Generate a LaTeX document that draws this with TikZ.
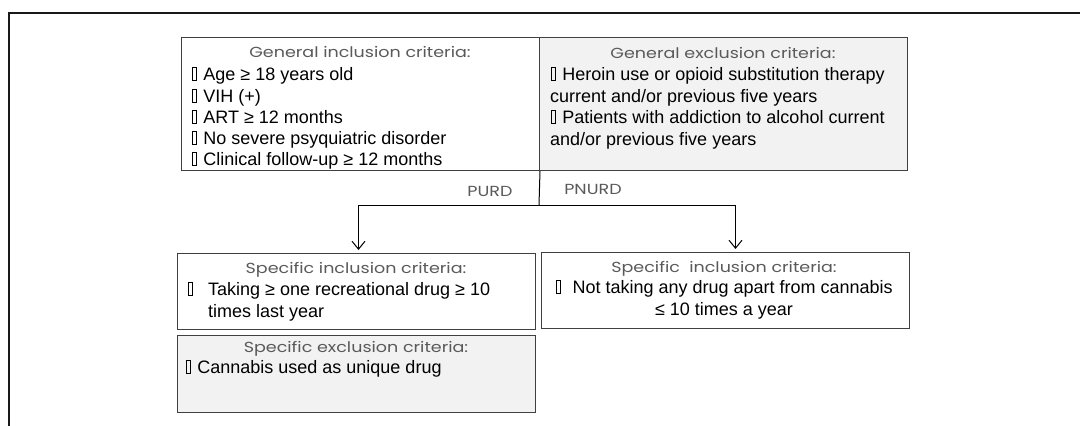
\documentclass[tikz,border=0pt]{standalone}
\usepackage{fontspec}
\setmainfont{Liberation Sans}
\newfontfamily\titlefont{Poppins}[FakeStretch=1.2]
\usetikzlibrary{arrows.meta,calc}

\definecolor{edge}{HTML}{404040}
\definecolor{shade}{HTML}{F2F2F2}
\definecolor{titlegray}{HTML}{5A5A5A}

% missing-glyph box used as bullet
\newcommand{\tofu}{\begingroup\setlength{\fboxsep}{0pt}\setlength{\fboxrule}{0.6pt}%
  \hspace{1pt}\fbox{\rule{0pt}{12pt}\hspace{3.5pt}}\hspace{1.5pt}\endgroup}

\tikzset{
  crit/.style={draw=edge, line width=1pt, fill=white, anchor=north west, inner sep=0pt},
  critshade/.style={crit, fill=shade},
  ttl/.style={anchor=base, inner sep=0pt, text=titlegray, font=\titlefont\fontsize{14.6}{16}\selectfont},
  body/.style={anchor=base west, inner sep=0pt, font=\fontsize{18}{20}\selectfont},
  bodyc/.style={body, anchor=base},
  link/.style={draw=black, line width=1pt},
  arr/.style={link, -{Straight Barb[length=8pt,width=13pt,line width=1pt]}, shorten >=3pt},
}

\begin{document}
\begin{tikzpicture}[x=1pt,y=-1pt]
\useasboundingbox (0,0) rectangle (1080,426);
\clip (0,0) rectangle (1080,426);

% outer frame
\draw[line width=2pt, black!90] (9,440) -- (9,13) -- (1090,13);

% top boxes
\node[crit, minimum width=358pt, minimum height=133pt] (gin) at (181,37) {};
\node[critshade, minimum width=368pt, minimum height=133pt] (gex) at (539,37) {};

% bottom boxes
\node[crit, minimum width=358pt, minimum height=76pt] (sinL) at (177,253) {};
\node[critshade, minimum width=358pt, minimum height=77pt] (sexL) at (177,335) {};
\node[crit, minimum width=368pt, minimum height=76pt] (sinR) at (541,252) {};

% general inclusion
\node[ttl] (ginT) at (360,57) {General inclusion criteria:};
\node[body] (gin1) at (191,80) {\tofu\ Age ≥ 18 years old};
\node[body] (gin2) at (191,102) {\tofu\ VIH (+)};
\node[body] (gin3) at (191,123) {\tofu\ ART ≥ 12 months};
\node[body] (gin4) at (191,144) {\tofu\ No severe psyquiatric disorder};
\node[body] (gin5) at (191,165) {\tofu\ Clinical follow-up ≥ 12 months};

% general exclusion
\node[ttl] (gexT) at (723,58) {General exclusion criteria:};
\node[body] (gex1) at (550,80) {\tofu\ Heroin use or opioid substitution therapy};
\node[body] (gex2) at (550,102) {current and/or previous five years};
\node[body] (gex3) at (550,123) {\tofu\ Patients with addiction to alcohol current};
\node[body] (gex4) at (550,145) {and/or previous five years};

% branch labels
\node[ttl] (purd) at (490,196) {PURD};
\node[ttl] (pnurd) at (593,194) {PNURD};

% specific inclusion, left
\node[ttl] (sinLT) at (356,273) {Specific inclusion criteria:};
\node[body] (sinL1) at (187,295) {\tofu};
\node[body] (sinL2) at (208,295) {Taking ≥ one recreational drug ≥ 10};
\node[body] (sinL3) at (208,317) {times last year};

% specific exclusion, left
\node[ttl] (sexLT) at (356,352) {Specific exclusion criteria:};
\node[body] (sexL1) at (185,373) {\tofu\ Cannabis used as unique drug};

% specific inclusion, right
\node[ttl] (sinRT) at (724,272) {Specific\ \ inclusion criteria:};
\node[bodyc] (sinR1) at (724,293) {\tofu\ \ Not taking any drug apart from cannabis};
\node[bodyc] (sinR2) at (724,315) {≤ 10 times a year};

% connectors
\coordinate (split) at (539,205);
\draw[link] (gin.south east) -- (split);
\draw[arr] (split) -| ([xshift=2pt]sinL.north);
\draw[arr] (split) -| ([xshift=10pt]sinR.north);
\end{tikzpicture}
\end{document}
